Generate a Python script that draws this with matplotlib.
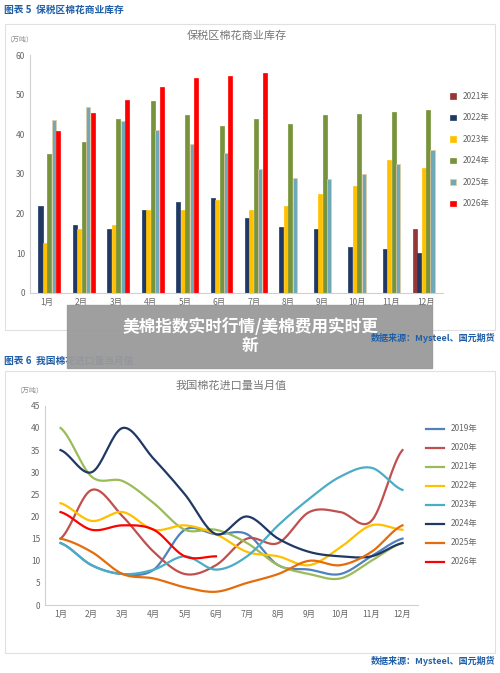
import numpy as np
import matplotlib.pyplot as plt
from matplotlib.patches import Rectangle

plt.rcParams['font.family'] = ['Noto Sans CJK SC', 'DejaVu Sans']

months = [f"{i}月" for i in range(1, 13)]

# 保税区棉花商业库存 (万吨)
stock_years = ["2021年", "2022年", "2023年", "2024年", "2025年", "2026年"]
stock = [
    [np.nan] * 11 + [16],
    [22, 17, 16, 21, 23, 24, 19, 16.5, 16, 11.5, 11, 10],
    [12.5, 16, 17, 21, 21, 23.5, 21, 22, 25, 27, 33.5, 31.5],
    [35, 38, 44, 48.5, 45, 42, 44, 42.5, 45, 45.2, 45.7, 46.2],
    [43.7, 47, 43.5, 41.2, 37.5, 35.2, 31.3, 29, 28.7, 30, 32.5, 36],
    [40.8, 45.3, 48.6, 52, 54.2, 54.8, 55.6] + [np.nan] * 5,
]
stock_colors = ["#953735", "#1f3864", "#ffc000", "#77933c", "#6fa8b8", "#ff0000"]

# 我国棉花进口量当月值 (万吨)
imp_years = ["2019年", "2020年", "2021年", "2022年", "2023年", "2024年", "2025年", "2026年"]
imports = [
    [14, 9, 7, 8, 17, 16, 16, 9, 8, 7, 11, 15],
    [15, 26, 20, 12, 7, 9, 15, 14, 21, 21, 19, 35],
    [40, 29, 28, 23, 17, 17, 14, 9, 7, 6, 10, 14],
    [23, 19, 21, 17, 18, 16, 12, 11, 9, 13, 18, 17],
    [14, 9, 7, 8, 11, 8, 11, 18, 24, 29, 31, 26],
    [35, 30, 40, 33, 25, 16, 20, 15, 12, 11, 11, 14],
    [15, 12, 7, 6, 4, 3, 5, 7, 10, 9, 12, 18],
    [21, 17, 18, 17, 11, 11],
]
imp_colors = ["#4f81bd", "#c0504d", "#9bbb59", "#ffc000", "#4bacc6", "#1f3864", "#e46c0a", "#ff0000"]


def smooth(y, n=20):
    # Catmull-Rom curve through the data points (drawing only)
    y = np.asarray(y, float)
    p = np.concatenate([[y[0]], y, [y[-1]]])
    xs, ys = [], []
    for i in range(len(y) - 1):
        t = np.linspace(0, 1, n, endpoint=False)
        p0, p1, p2, p3 = p[i], p[i + 1], p[i + 2], p[i + 3]
        v = 0.5 * (2 * p1 + (-p0 + p2) * t + (2 * p0 - 5 * p1 + 4 * p2 - p3) * t ** 2
                   + (-p0 + 3 * p1 - 3 * p2 + p3) * t ** 3)
        xs.extend(i + t)
        ys.extend(v)
    xs.append(len(y) - 1)
    ys.append(y[-1])
    return np.array(xs), np.array(ys)


fig = plt.figure(figsize=(5, 6.73), dpi=100)
blue = "#1f5fa8"

# frames and headers
fig.text(0.008, 0.993, "图表 5  保税区棉花商业库存", color=blue, fontsize=7, va="top", weight="bold")
fig.patches.append(Rectangle((0.01, 0.51), 0.98, 0.455, transform=fig.transFigure,
                             fill=False, ec="#e0e0e0", lw=0.8))
fig.text(0.99, 0.505, "数据来源：Mysteel、国元期货", color=blue, fontsize=6.5, ha="right", va="top",
         weight="bold", zorder=12)
fig.text(0.008, 0.472, "图表 6  我国棉花进口量当月值", color=blue, fontsize=7, va="top", weight="bold")
fig.patches.append(Rectangle((0.01, 0.03), 0.98, 0.418, transform=fig.transFigure,
                             fill=False, ec="#e0e0e0", lw=0.8))
fig.text(0.99, 0.025, "数据来源：Mysteel、国元期货", color=blue, fontsize=6.5, ha="right", va="top", weight="bold")

# top chart
ax = fig.add_axes([0.06, 0.565, 0.826, 0.353])
x = np.arange(12)
w = 0.13
for k, (vals, c, lab) in enumerate(zip(stock, stock_colors, stock_years)):
    ec = "#e8c9a0" if lab == "2025年" else c
    ax.bar(x + (k - 2.5) * w, vals, w * 0.9, color=c, ec=ec, lw=0.5, label=lab)
ax.set_ylim(0, 60)
ax.set_xlim(-0.5, 11.5)
ax.set_xticks(x)
ax.set_xticklabels(months)
ax.set_yticks(range(0, 61, 10))
ax.tick_params(labelsize=6, colors="#666666", length=0)
for s in ["top", "right"]:
    ax.spines[s].set_visible(False)
for s in ["left", "bottom"]:
    ax.spines[s].set_color("#d0d0d0")
ax.set_title("保税区棉花商业库存", fontsize=8, color="#777777", pad=12)
ax.text(-0.06, 1.06, "（万吨）", transform=ax.transAxes, fontsize=5, color="#888888")
ax.legend(loc="center left", bbox_to_anchor=(1.0, 0.6), frameon=False, fontsize=6,
          handlelength=0.7, handleheight=0.7, labelspacing=1.5, labelcolor="#666666")

# bottom chart
ax2 = fig.add_axes([0.09, 0.101, 0.746, 0.296])
for vals, c, lab in zip(imports, imp_colors, imp_years):
    sx, sy = smooth(vals)
    ax2.plot(sx, sy, color=c, lw=1.6, label=lab)
ax2.set_ylim(0, 45)
ax2.set_xlim(-0.5, 11.5)
ax2.set_xticks(x)
ax2.set_xticklabels(months)
ax2.set_yticks(range(0, 46, 5))
ax2.tick_params(labelsize=6, colors="#666666", length=0)
for s in ["top", "right"]:
    ax2.spines[s].set_visible(False)
for s in ["left", "bottom"]:
    ax2.spines[s].set_color("#d0d0d0")
ax2.set_title("我国棉花进口量当月值", fontsize=8, color="#777777", pad=12)
ax2.text(-0.08, 1.07, "（万吨）", transform=ax2.transAxes, fontsize=5, color="#888888")
ax2.legend(loc="center left", bbox_to_anchor=(1.0, 0.55), frameon=False, fontsize=6,
           handlelength=2.2, labelspacing=1.2, labelcolor="#666666")

# overlay banner
fig.patches.append(Rectangle((0.134, 0.453), 0.73, 0.094, transform=fig.transFigure,
                             color="#9a9a9a", alpha=0.95, zorder=10))
fig.text(0.5, 0.5, "美棉指数实时行情/美棉费用实时更\n新", color="white", fontsize=12,
         weight="bold", ha="center", va="center", zorder=11, linespacing=1.1)

fig.savefig("out.png", dpi=100)
